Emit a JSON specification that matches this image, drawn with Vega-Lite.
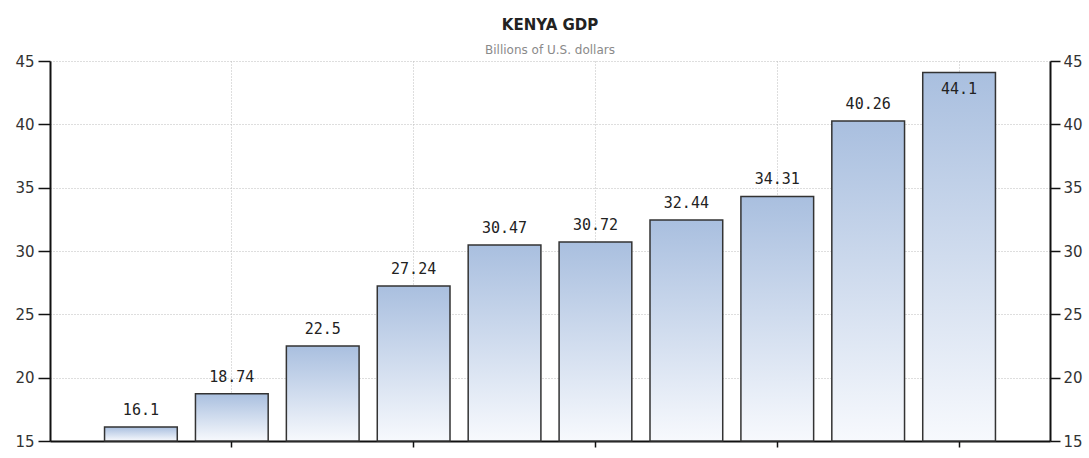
{
  "$schema": "https://vega.github.io/schema/vega-lite/v6.json",
  "width": 1000,
  "height": 380,
  "autosize": {"type": "none"},
  "padding": {"left": 50, "top": 61, "right": 39, "bottom": 17},
  "background": "white",
  "title": {
    "text": "KENYA GDP",
    "subtitle": "Billions of U.S. dollars",
    "anchor": "middle",
    "font": "DejaVu Sans",
    "fontSize": 15,
    "fontWeight": "bold",
    "color": "#222222",
    "subtitleFont": "DejaVu Sans",
    "subtitleFontSize": 12,
    "subtitleColor": "#8a8a8a",
    "subtitlePadding": 12,
    "offset": -2
  },
  "config": {"view": {"stroke": null}},
  "data": {
    "values": [
      {"year": 2004, "gdp": 16.1},
      {"year": 2005, "gdp": 18.74},
      {"year": 2006, "gdp": 22.5},
      {"year": 2007, "gdp": 27.24},
      {"year": 2008, "gdp": 30.47},
      {"year": 2009, "gdp": 30.72},
      {"year": 2010, "gdp": 32.44},
      {"year": 2011, "gdp": 34.31},
      {"year": 2012, "gdp": 40.26},
      {"year": 2013, "gdp": 44.1}
    ]
  },
  "encoding": {
    "x": {
      "field": "year",
      "type": "ordinal",
      "scale": {"paddingInner": 0.2, "paddingOuter": 0.6},
      "axis": {
        "values": [2005, 2007, 2009, 2011, 2013],
        "labels": false,
        "title": null,
        "domainColor": "#111111",
        "domainWidth": 2,
        "tickColor": "#111111",
        "tickWidth": 1.5,
        "tickSize": 6,
        "grid": true,
        "gridDash": [1, 2],
        "gridColor": "#bdbdbd",
        "bandPosition": 0.5
      }
    }
  },
  "layer": [
    {
      "mark": {
        "type": "bar",
        "color": {
          "gradient": "linear",
          "x1": 0, "y1": 0, "x2": 0, "y2": 1,
          "stops": [
            {"offset": 0, "color": "#a9bfdf"},
            {"offset": 1, "color": "#f7f9fd"}
          ]
        },
        "stroke": "#333333",
        "strokeWidth": 1.5
      },
      "encoding": {
        "y": {
          "field": "gdp",
          "type": "quantitative",
          "scale": {"domain": [15, 45], "nice": false, "zero": false},
          "axis": {
            "values": [15, 20, 25, 30, 35, 40, 45],
            "title": null,
            "orient": "left",
            "domainColor": "#111111",
            "domainWidth": 2,
            "tickColor": "#111111",
            "tickWidth": 1.5,
            "tickSize": 12,
            "labelFont": "DejaVu Sans",
            "labelFontSize": 15,
            "labelColor": "#333333",
            "labelPadding": 4,
            "grid": true,
            "gridDash": [1, 2],
            "gridColor": "#bdbdbd"
          }
        },
        "y2": {"datum": 15}
      }
    },
    {
      "transform": [{"filter": "datum.gdp < 43"}],
      "mark": {
        "type": "text",
        "baseline": "alphabetic",
        "dy": -12,
        "font": "DejaVu Sans Mono",
        "fontSize": 15,
        "color": "#222222"
      },
      "encoding": {
        "y": {
          "field": "gdp",
          "type": "quantitative",
          "scale": {"domain": [15, 45], "nice": false, "zero": false},
          "axis": {
            "values": [15, 20, 25, 30, 35, 40, 45],
            "title": null,
            "orient": "right",
            "domainColor": "#111111",
            "domainWidth": 2,
            "tickColor": "#111111",
            "tickWidth": 1.5,
            "tickSize": 10,
            "labelFont": "DejaVu Sans",
            "labelFontSize": 15,
            "labelColor": "#333333",
            "labelPadding": 3,
            "grid": false
          }
        },
        "text": {"field": "gdp", "type": "nominal"}
      }
    },
    {
      "transform": [{"filter": "datum.gdp >= 43"}],
      "mark": {
        "type": "text",
        "baseline": "alphabetic",
        "dy": 22,
        "font": "DejaVu Sans Mono",
        "fontSize": 15,
        "color": "#222222"
      },
      "encoding": {
        "y": {
          "field": "gdp",
          "type": "quantitative",
          "scale": {"domain": [15, 45], "nice": false, "zero": false},
          "axis": null
        },
        "text": {"field": "gdp", "type": "nominal"}
      }
    }
  ],
  "resolve": {"axis": {"y": "independent"}}
}
